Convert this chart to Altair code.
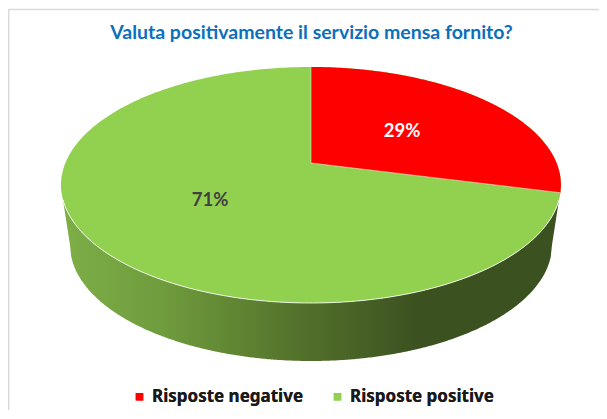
import math
import altair as alt
import pandas as pd

# --- chart values ---
categories = ["Risposte negative", "Risposte positive"]
shares = [29, 71]
colors = ["#ff0000", "#92d050"]
label_texts = ["29%", "71%"]
label_colors = ["#ffffff", "#404040"]
label_x = [402, 210]
label_y = [131, 200]
title_text = "Valuta positivamente il servizio mensa fornito?"

# --- layout of the tilted pie, in picture pixels ---
CX, CY, RX, RY = 311.0, 185.0, 250.0, 118.0
APEX_SHIFT = -22.0 / 118.0
LOW_CY, LOW_RX, LOW_RY = 245.0, 241.0, 116.0
W, H = 591, 402
XMIN, YMIN = 8, 8


def half(u):
    return math.sqrt(max(0.0, 1 - u * u))


def sweep(n=240):
    return [-math.cos(math.pi * i / n) for i in range(n + 1)]


# whole top face: painted as the positive share
rows_pos = []
for u in sweep():
    rows_pos.append({"cat": categories[1], "x": CX + RX * u,
                     "y": CY - RY * half(u), "y2": CY + RY * half(u)})

# negative slice: from 12 o'clock clockwise by its share, with perspective
theta = shares[0] / sum(shares) * 2 * math.pi
Y = -math.cos(theta)
yp = (Y + APEX_SHIFT) / (1 + APEX_SHIFT * Y)
xe_u = half(yp)
xe, ye = CX + RX * xe_u, CY + RY * yp
ax, ay = CX, CY + RY * APEX_SHIFT
rows_neg = []
us = sorted(set([i / 240 for i in range(241)] + [xe_u]))
for u in us:
    x = CX + RX * u
    top = CY - RY * half(u)
    if u <= xe_u:
        low = ay + (ye - ay) * (x - ax) / (xe - ax)
    else:
        low = CY + RY * half(u)
    rows_neg.append({"cat": categories[0], "x": x, "y": top, "y2": low})

# side wall
x0, x1 = 63.0, 559.0
lx0, lx1 = CX - LOW_RX, CX + LOW_RX
rows_side = []
xs = sorted(set([x0 + (x1 - x0) * i / 300 for i in range(301)] + [lx0, lx1]))
base0 = CY + RY * half((x0 - CX) / RX)
base1 = CY + RY * half((x1 - CX) / RX)
for x in xs:
    u = (x - CX) / RX
    top = CY + RY * half(u)
    if x < lx0:
        low = base0 + (LOW_CY - base0) * (x - x0) / (lx0 - x0)
    elif x > lx1:
        low = base1 + (LOW_CY - base1) * (x1 - x) / (x1 - lx1)
    else:
        low = LOW_CY + LOW_RY * half((x - CX) / LOW_RX)
    rows_side.append({"x": x, "y": top, "y2": low})

rim = [{"x": r["x"], "y": r["y"]} for r in rows_side]
sep_rows = [
    {"k": "a", "o": 0, "x": CX, "y": CY - RY},
    {"k": "a", "o": 1, "x": ax, "y": ay},
    {"k": "a", "o": 2, "x": xe, "y": ye},
]
border_rows = [
    {"x": XMIN, "x2": XMIN + W, "y": 9.5, "y2": 9.5},
    {"x": 8.7, "x2": 8.7, "y": 9.5, "y2": YMIN + H},
]

x_enc = alt.X("x:Q", scale=alt.Scale(domain=[XMIN, XMIN + W], nice=False, zero=False), axis=None)
y_enc = alt.Y("y:Q", scale=alt.Scale(domain=[YMIN + H, YMIN], nice=False, zero=False), axis=None)

color_enc = alt.Color(
    "cat:N",
    scale=alt.Scale(domain=categories, range=colors),
    legend=alt.Legend(
        title=None, orient="none", legendX=123, legendY=380, direction="horizontal",
        symbolType="square", symbolSize=56, symbolStrokeWidth=0, symbolOffset=0,
        labelFont="Noto Sans", labelFontSize=17, labelFontWeight="bold", labelColor="#1a1a1a",
        columnPadding=25, labelOffset=4, labelLimit=300,
    ),
)

side = alt.Chart(pd.DataFrame(rows_side)).mark_area(
    color=alt.Gradient(
        gradient="linear", x1=0, x2=1, y1=0, y2=0,
        stops=[
            alt.GradientStop(offset=0.0, color="#7dae47"),
            alt.GradientStop(offset=0.2, color="#6f9c3d"),
            alt.GradientStop(offset=0.48, color="#53712b"),
            alt.GradientStop(offset=0.72, color="#3b5120"),
            alt.GradientStop(offset=1.0, color="#3b5120"),
        ],
    )
).encode(x=x_enc, y=y_enc, y2="y2:Q")

pos = alt.Chart(pd.DataFrame(rows_pos)).mark_area().encode(x=x_enc, y=y_enc, y2="y2:Q", color=color_enc)
neg = alt.Chart(pd.DataFrame(rows_neg)).mark_area().encode(x=x_enc, y=y_enc, y2="y2:Q", color=color_enc)

rim_line = alt.Chart(pd.DataFrame(rim)).mark_line(color="#ffffff", strokeWidth=1, opacity=0.85).encode(x=x_enc, y=y_enc)
sep_line = alt.Chart(pd.DataFrame(sep_rows)).mark_line(color="#ffffff", strokeWidth=0.8, opacity=0.6).encode(
    x=x_enc, y=y_enc, order="o:Q"
)

border = alt.Chart(pd.DataFrame(border_rows)).mark_rule(color="#d9d9d9", strokeWidth=1.5).encode(
    x=x_enc, x2="x2:Q", y=y_enc, y2="y2:Q"
)

title = alt.Chart(pd.DataFrame([{"t": title_text, "x": 311.5, "y": 33}])).mark_text(
    font="Lato", fontSize=19.5, fontWeight="bold", color="#0b6fbc", align="center", baseline="middle"
).encode(x=x_enc, y=y_enc, text="t:N")

labels = alt.Chart(pd.DataFrame({"t": label_texts, "x": label_x, "y": label_y, "c": label_colors})).mark_text(
    font="Lato", fontSize=18.5, fontWeight="bold", align="center", baseline="middle"
).encode(x=x_enc, y=y_enc, text="t:N", color=alt.Color("c:N", scale=None, legend=None))

chart = (
    alt.layer(border, side, pos, neg, rim_line, sep_line, title, labels)
    .resolve_scale(color="independent")
    .properties(width=W, height=H, padding=0, autosize=alt.AutoSizeParams(type="none"),
                background="#ffffff")
    .configure_view(stroke=None)
)

chart.save("out.html", embed_options={"renderer": "svg", "actions": False})
